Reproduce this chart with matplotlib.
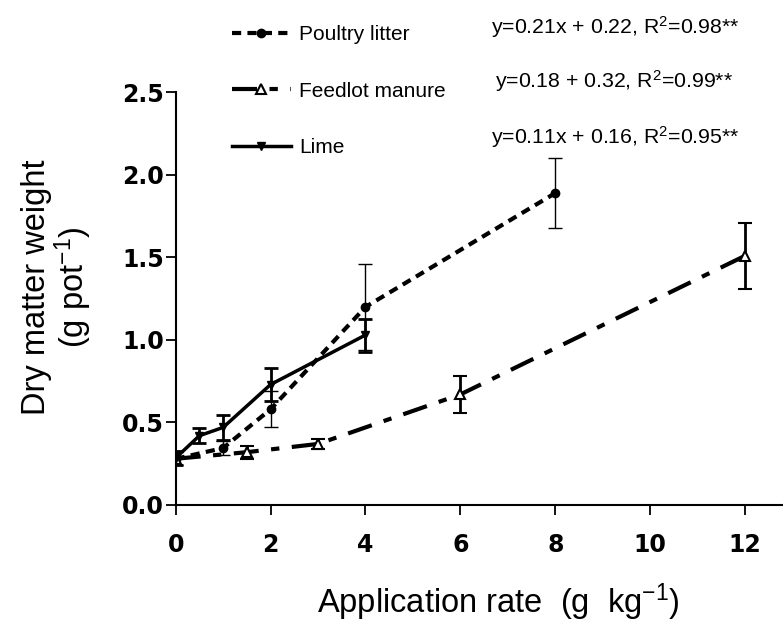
import numpy as np
import matplotlib.pyplot as plt

plt.rcParams['font.family'] = ['Liberation Sans', 'DejaVu Sans']
plt.rcParams['mathtext.default'] = 'regular'

# data
poultry_x = [0, 1, 2, 4, 8]
poultry_y = [0.28, 0.345, 0.58, 1.20, 1.89]
poultry_err = [0.04, 0.04, 0.11, 0.26, 0.21]

feedlot_x = [0, 1.5, 3, 6, 12]
feedlot_y = [0.28, 0.32, 0.37, 0.67, 1.51]
feedlot_err = [0.04, 0.04, 0.03, 0.11, 0.20]

lime_x = [0, 0.5, 1, 2, 4]
lime_y = [0.285, 0.42, 0.47, 0.73, 1.03]
lime_err = [0.04, 0.045, 0.075, 0.10, 0.10]

equations = ['y=0.21x + 0.22, R$^2$=0.98**',
             'y=0.18 + 0.32, R$^2$=0.99**',
             'y=0.11x + 0.16, R$^2$=0.95**']

fig = plt.figure(figsize=(7.83, 6.27), dpi=100)
ax = fig.add_axes([0.2244, 0.1946, 0.7756, 0.658])

l1 = ax.errorbar(poultry_x, poultry_y, yerr=poultry_err, color='black', lw=3,
                 ls=(0, (2.2, 1.5)), marker='o', ms=6, elinewidth=1, capsize=5,
                 capthick=1, label='Poultry litter')
l2 = ax.errorbar(feedlot_x, feedlot_y, yerr=feedlot_err, color='black', lw=3,
                 ls=(0, (6, 3, 2, 3)), marker='^', ms=7, mfc='white', mew=1.5,
                 elinewidth=2, capsize=5, capthick=2, label='Feedlot manure')
l3 = ax.errorbar(lime_x, lime_y, yerr=lime_err, color='black', lw=2.5,
                 ls='-', marker='v', ms=6, elinewidth=2, capsize=5, capthick=2,
                 label='Lime')

ax.set_xlim(0, 12.8)
ax.set_ylim(0, 2.5)
ax.set_xticks([0, 2, 4, 6, 8, 10, 12])
ax.set_yticks([0.0, 0.5, 1.0, 1.5, 2.0, 2.5])
ax.set_yticklabels(['0.0', '0.5', '1.0', '1.5', '2.0', '2.5'])
ax.spines['top'].set_visible(False)
ax.spines['right'].set_visible(False)
ax.spines['left'].set_linewidth(1.5)
ax.spines['bottom'].set_linewidth(1.5)
ax.tick_params(direction='out', length=7, width=1.3)
ax.tick_params(axis='x', pad=13)
ax.tick_params(axis='y', pad=1.5)
for t in ax.get_xticklabels() + ax.get_yticklabels():
    t.set_fontweight('bold')
    t.set_fontsize(17)
    t.set_family('DejaVu Sans')

ax.set_xlabel('Application rate  (g  kg$^{-1}$)', fontsize=23.5)
ax.xaxis.set_label_coords(0.531, -0.185)
ax.set_ylabel('Dry matter weight\n(g pot$^{-1}$)', fontsize=23.5, linespacing=1.0)
ax.yaxis.set_label_coords(-0.135, 0.528)

# legend placed above the plot area
leg = fig.legend(handles=[l1[0], l2[0], l3[0]], labels=['Poultry litter', 'Feedlot manure', 'Lime'],
                 loc='upper left', bbox_to_anchor=(0.272, 0.99), frameon=False, fontsize=15,
                 handlelength=2.85, labelspacing=1.8, handletextpad=0.4)

eq_x = [0.627, 0.632, 0.627]
eq_y = [0.957, 0.870, 0.782]
for x, y, eq in zip(eq_x, eq_y, equations):
    fig.text(x, y, eq, fontsize=15.3, va='center')

fig.savefig('out.png', dpi=100)
